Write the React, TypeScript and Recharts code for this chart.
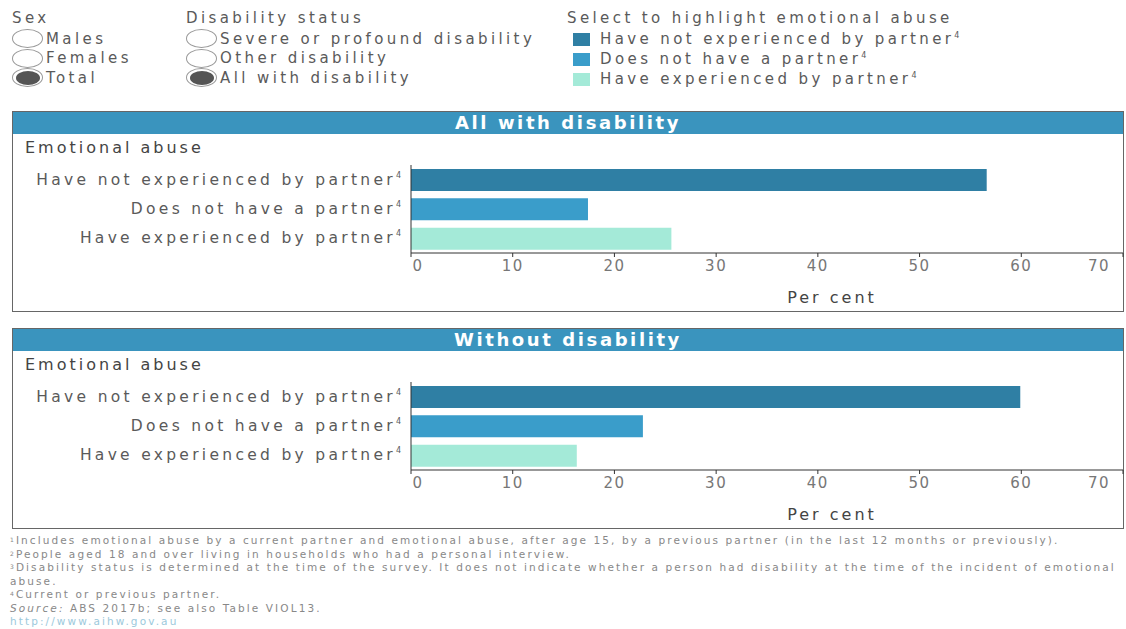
import { BarChart, Bar, XAxis, YAxis, Cell } from "recharts"

const categories = ['Have not experienced by partner', 'Does not have a partner', 'Have experienced by partner']
const withDisability = [56.6, 17.4, 25.6]
const withoutDisability = [59.9, 22.8, 16.3]
const barColors = ['#2f7fa4', '#3a9dca', '#a4ead8']
const xTicks = [0, 10, 20, 30, 40, 50, 60, 70]

const sexOptions = ['Males', 'Females', 'Total']
const disabilityOptions = ['Severe or profound disability', 'Other disability', 'All with disability']

const footnotes = [
  { sup: '1', lines: ['Includes emotional abuse by a current partner and emotional abuse, after age 15, by a previous partner (in the last 12 months or previously).'] },
  { sup: '2', lines: ['People aged 18 and over living in households who had a personal interview.'] },
  { sup: '3', lines: ['Disability status is determined at the time of the survey. It does not indicate whether a person had disability at the time of the incident of emotional', 'abuse.'] },
  { sup: '4', lines: ['Current or previous partner.'] },
]

const font = '"DejaVu Sans", sans-serif'
const grey = '#5a5a5a'

const YTick = (props: any) => {
  const { x, y, payload } = props
  return (
    <text x={x} y={y} dy={5} textAnchor="end" fill={grey} fontSize={15.5} fontFamily={font} style={{ letterSpacing: 3.3 }}>
      {payload.value}
      <tspan fontSize={8} dy={-7} style={{ letterSpacing: 0 }}>4</tspan>
    </text>
  )
}

const XTick = (props: any) => {
  const { x, y, payload } = props
  let shift = 0
  if (payload.value === 0) shift = 7
  if (payload.value === 70) shift = -17
  return (
    <text x={x + shift} y={y} dy={12} textAnchor="middle" fill="#777" fontSize={15} fontFamily={font} style={{ letterSpacing: 1.5 }}>
      {payload.value}
    </text>
  )
}

function Radio(props: { label: string; on: boolean }) {
  return (
    <div style={{ display: 'flex', alignItems: 'center', height: 19.5 }}>
      <div style={{ width: 31, height: 19, borderRadius: '50%', border: '1px solid #999', boxSizing: 'border-box', display: 'flex', alignItems: 'center', justifyContent: 'center', marginRight: 3, flexShrink: 0 }}>
        {props.on && <div style={{ width: 24, height: 14, borderRadius: '50%', background: '#555' }} />}
      </div>
      <span>{props.label}</span>
    </div>
  )
}

function Panel(props: { title: string; values: number[]; top: number }) {
  const data = categories.map((c, i) => ({ name: c, value: props.values[i] }))
  return (
    <div style={{ position: 'absolute', left: 12, top: props.top, width: 1112, height: 201, border: '1px solid #666', boxSizing: 'border-box', background: '#fff' }}>
      <div style={{ height: 22, background: '#3a94be', color: '#fff', fontWeight: 'bold', fontSize: 18, textAlign: 'center', lineHeight: '22px', letterSpacing: 2.6 }}>
        {props.title}
      </div>
      <div style={{ position: 'absolute', left: 12, top: 26, fontSize: 16, color: '#444', letterSpacing: 3 }}>Emotional abuse</div>
      <div style={{ position: 'absolute', left: -1, top: 23 }}>
        <BarChart width={1112} height={178} data={data} layout="vertical" margin={{ top: 30, right: 1, left: 0, bottom: 0 }} barSize={22}>
          <XAxis type="number" domain={[0, 70]} ticks={xTicks} height={60} stroke="#333" tickSize={4} tick={<XTick />}
            label={{ value: 'Per cent', position: 'insideBottom', offset: 10, dx: 65, fill: '#444', fontSize: 16, fontFamily: font, style: { letterSpacing: 3 } }} />
          <YAxis type="category" dataKey="name" width={399} stroke="#333" tickLine={false} tickSize={0} tickMargin={10} tick={<YTick />} />
          <Bar dataKey="value" isAnimationActive={false}>
            {data.map((d, i) => <Cell key={d.name} fill={barColors[i]} />)}
          </Bar>
        </BarChart>
      </div>
    </div>
  )
}

export default function App() {
  return (
    <div style={{ position: 'absolute', left: 0, top: 0, width: 1126, height: 629, background: '#fff', fontFamily: font, color: grey, overflow: 'hidden' }}>
      <div style={{ position: 'absolute', left: 12, top: 9, fontSize: 15, letterSpacing: 3.4 }}>
        <div style={{ height: 20 }}>Sex</div>
        {sexOptions.map((s, i) => <Radio key={s} label={s} on={i === 2} />)}
      </div>
      <div style={{ position: 'absolute', left: 186, top: 9, fontSize: 15, letterSpacing: 3.4 }}>
        <div style={{ height: 20 }}>Disability status</div>
        {disabilityOptions.map((s, i) => <Radio key={s} label={s} on={i === 2} />)}
      </div>
      <div style={{ position: 'absolute', left: 567, top: 9, fontSize: 15, letterSpacing: 3.4 }}>
        <div style={{ height: 20 }}>Select to highlight emotional abuse</div>
        {categories.map((c, i) => (
          <div key={c} style={{ display: 'flex', alignItems: 'center', height: 20 }}>
            <div style={{ width: 17, height: 13, background: barColors[i], marginLeft: 6, marginRight: 10 }} />
            <span>{c}<span style={{ fontSize: 8, verticalAlign: 'super', lineHeight: 0, letterSpacing: 0 }}>4</span></span>
          </div>
        ))}
      </div>
      <Panel title="All with disability" values={withDisability} top={111} />
      <Panel title="Without disability" values={withoutDisability} top={328} />
      <div style={{ position: 'absolute', left: 10, top: 534, width: 1116, fontSize: 10.5, lineHeight: '13.5px', color: '#888', letterSpacing: 2.1, whiteSpace: 'nowrap' }}>
        {footnotes.map(f => (
          <div key={f.sup}>
            <span style={{ fontSize: 6, position: 'relative', top: -2, lineHeight: 0 }}>{f.sup}</span>
            {f.lines.map((l, i) => <div key={i} style={{ display: i === 0 ? 'inline' : 'block' }}>{l}</div>)}
          </div>
        ))}
        <div><i>Source:</i> ABS 2017b; see also Table VIOL13.</div>
        <div style={{ color: '#9cc9dc' }}>http://www.aihw.gov.au</div>
      </div>
    </div>
  )
}
